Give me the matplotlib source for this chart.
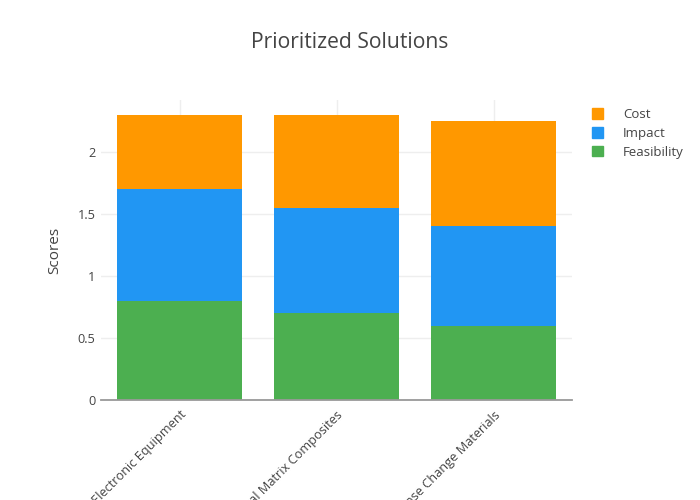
import numpy as np
from matplotlib import pyplot as plt
from matplotlib.patches import Patch

solutions = ["Electronic Equipment", "Metal Matrix Composites", "Phase Change Materials"]
feasibility = [0.8, 0.7, 0.6]
impact = [0.9, 0.85, 0.8]
cost = [0.6, 0.75, 0.85]

green = "#4CAF50"
blue = "#2196F3"
orange = "#FF9800"
txt = "#444444"

plt.rcParams["font.family"] = ["Open Sans", "DejaVu Sans"]

fig = plt.figure(figsize=(7, 5), dpi=100)
ax = fig.add_axes([101 / 700, 0.2, 471 / 700, 0.6])

x = np.arange(len(solutions))
bottom2 = np.array(feasibility)
bottom3 = bottom2 + np.array(impact)
ax.bar(x, feasibility, width=0.8, color=green, zorder=2)
ax.bar(x, impact, width=0.8, bottom=bottom2, color=blue, zorder=2)
ax.bar(x, cost, width=0.8, bottom=bottom3, color=orange, zorder=2)

ax.set_xlim(-0.5, 2.5)
ax.set_ylim(0, 2.42)
ax.set_yticks([0, 0.5, 1, 1.5, 2])
ax.set_yticklabels(["0", "0.5", "1", "1.5", "2"])
ax.set_xticks(x)
ax.set_xticklabels(solutions, rotation=45, ha="right", rotation_mode="anchor")
ax.grid(True, color="#eeeeee", linewidth=1, zorder=0)
ax.tick_params(length=0, labelsize=9.2, labelcolor=txt)
ax.tick_params(axis="x", pad=6)
ax.tick_params(axis="y", pad=4)
for s in ["top", "right", "left"]:
    ax.spines[s].set_visible(False)
ax.spines["bottom"].set_color("#999999")
ax.spines["bottom"].set_linewidth(1.3)
ax.spines["bottom"].set_zorder(3)

ax.set_ylabel("Scores", fontsize=11, color=txt, labelpad=11)
fig.text(0.5, 1 - 43 / 500, "Prioritized Solutions", ha="center", va="center",
         fontsize=15.2, color=txt)

handles = [Patch(color=orange, label="Cost"),
           Patch(color=blue, label="Impact"),
           Patch(color=green, label="Feasibility")]
fig.legend(handles=handles, loc="upper left", bbox_to_anchor=(580 / 700, 1 - 96 / 500),
           frameon=False, fontsize=9.5, labelcolor=txt, handlelength=0.85,
           handleheight=0.85, handletextpad=1.5, labelspacing=0.45)

fig.savefig("out.png", dpi=100)
